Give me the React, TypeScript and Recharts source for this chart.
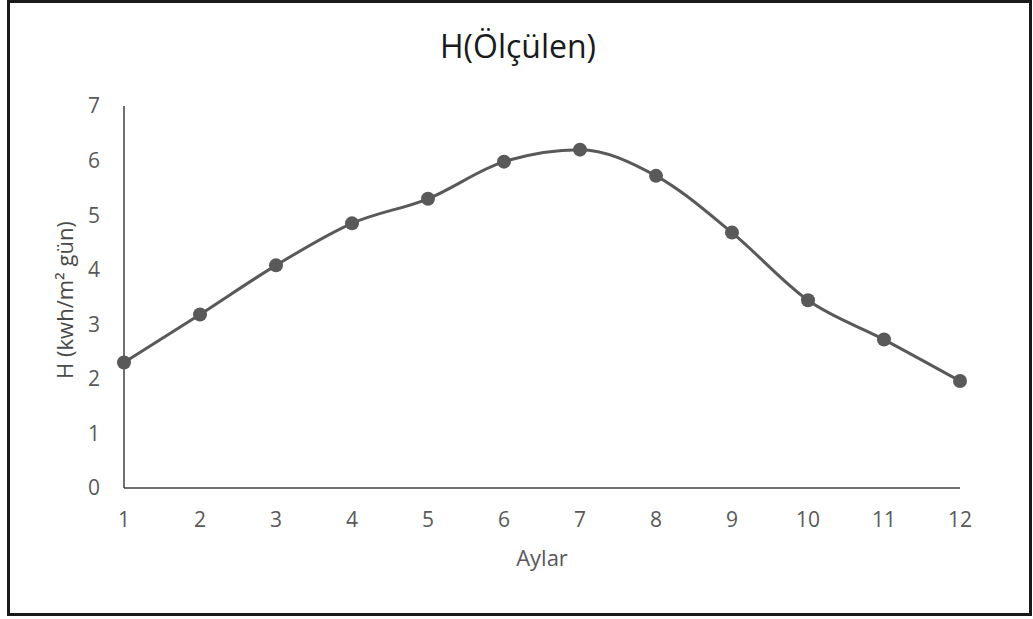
import { LineChart, Line, XAxis, YAxis } from 'recharts';

const months = [1, 2, 3, 4, 5, 6, 7, 8, 9, 10, 11, 12];
const hValues = [2.3, 3.18, 4.08, 4.85, 5.3, 5.98, 6.2, 5.72, 4.68, 3.44, 2.72, 1.96];
const yTicks = [0, 1, 2, 3, 4, 5, 6, 7];

const title = 'H(Ölçülen)';
const xTitle = 'Aylar';
const yTitle = 'H (kwh/m² gün)';

const data = months.map((m, i) => ({ ay: m, h: hValues[i] }));

const font = '"Open Sans", "Noto Sans", sans-serif';
const grey = '#595959';

// rotated y axis title, placed left of the tick labels
const YTitle = (props: any) => {
  const { viewBox } = props;
  const cx = 64;
  const cy = viewBox.y + viewBox.height / 2 + 3;
  return (
    <text
      x={cx}
      y={cy}
      transform={`rotate(-90, ${cx}, ${cy})`}
      textAnchor="middle"
      dominantBaseline="central"
      fill="#4a4a4a"
      fontSize={22}
      fontFamily={font}
    >
      {yTitle}
    </text>
  );
};

export default function App() {
  return (
    <div style={{ position: 'absolute', left: 0, top: 0, width: 1033, height: 619, background: '#fff', fontFamily: font }}>
      <div
        style={{
          position: 'absolute',
          left: 7,
          top: 0,
          width: 1025,
          height: 616,
          boxSizing: 'border-box',
          border: '3px solid #1a1a1a',
        }}
      />
      <div
        style={{
          position: 'absolute',
          left: 0,
          width: 1036,
          top: 25,
          textAlign: 'center',
          fontSize: 32,
          color: '#1a1a1a',
          lineHeight: '42px',
        }}
      >
        {title}
      </div>
      <div style={{ position: 'absolute', left: 0, top: 0 }}>
        <LineChart width={1033} height={619} data={data} margin={{ top: 106, right: 73, bottom: 0, left: 0 }}>
          <XAxis
            dataKey="ay"
            type="number"
            domain={[1, 12]}
            ticks={months}
            height={131}
            tickLine={false}
            tickMargin={18}
            axisLine={{ stroke: '#404040', strokeWidth: 1.5 }}
            tick={{ fill: grey, fontSize: 21, fontFamily: font }}
            label={{ value: xTitle, position: 'insideTop', offset: 62, fill: grey, fontSize: 22, fontFamily: font }}
          />
          <YAxis
            domain={[0, 7]}
            ticks={yTicks}
            width={124}
            tickLine={false}
            tickMargin={18}
            axisLine={{ stroke: '#404040', strokeWidth: 1.5 }}
            tick={{ fill: grey, fontSize: 21, fontFamily: font }}
            label={<YTitle />}
          />
          <Line
            type="monotone"
            dataKey="h"
            stroke={grey}
            strokeWidth={3}
            dot={{ r: 7, fill: grey, stroke: grey, strokeWidth: 0 }}
            isAnimationActive={false}
          />
        </LineChart>
      </div>
    </div>
  );
}
